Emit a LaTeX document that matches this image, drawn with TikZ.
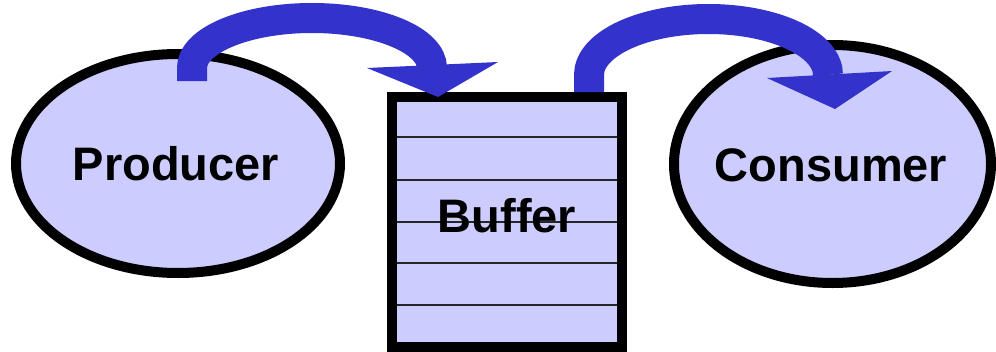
\documentclass[tikz,border=0pt]{standalone}
\usepackage{fontspec}
\setmainfont{Liberation Sans}
\usetikzlibrary{shapes.geometric}
\definecolor{lav}{HTML}{CCCCFF}
\definecolor{arrowblue}{HTML}{3333CC}
\begin{document}
\begin{tikzpicture}[x=1pt,y=-1pt,
  blob/.style={ellipse, draw=black, line width=10pt, fill=lav, inner sep=0pt},
  lbl/.style={inner sep=0pt, font=\fontsize{47}{56}\selectfont\bfseries},
  bufbox/.style={rectangle, draw=black, line width=10pt, fill=lav, inner sep=0pt,
                 minimum width=230pt, minimum height=250pt},
  slot/.style={line width=1.6pt, draw=black!85},
  band/.style={draw=arrowblue, line width=30pt},
  head/.style={fill=arrowblue}]
\useasboundingbox (0,0) rectangle (996,351);

\node[blob, minimum width=324pt, minimum height=219pt] (prod) at (178,163.5) {};
\node[lbl] (prodlbl) at (176,164) {Producer};

\node[blob, minimum width=317pt, minimum height=238pt] (cons) at (832.5,164) {};
\node[lbl] (conslbl) at (831,165) {Consumer};

\node[bufbox] (buf) at (507,222) {};
\foreach \yy in {137,180,222,263,305}
  \draw[slot] (397,\yy) -- (617,\yy);
\node[lbl] (buflbl) at (507,216) {Buffer};

% arrow producer -> buffer
\coordinate (a1s) at (192,81);
\draw[band] (a1s) -- (192,68) arc(180:360:120 and 50);
\fill[head] (367,68) -- (498,62) -- (438,97) -- cycle;

% arrow buffer -> consumer
\coordinate (a2s) at (589,92);
\draw[band] (a2s) -- (589,75) arc(180:360:119.5 and 56);
\fill[head] (767,78) -- (892,71) -- (835,109) -- cycle;
\end{tikzpicture}
\end{document}
